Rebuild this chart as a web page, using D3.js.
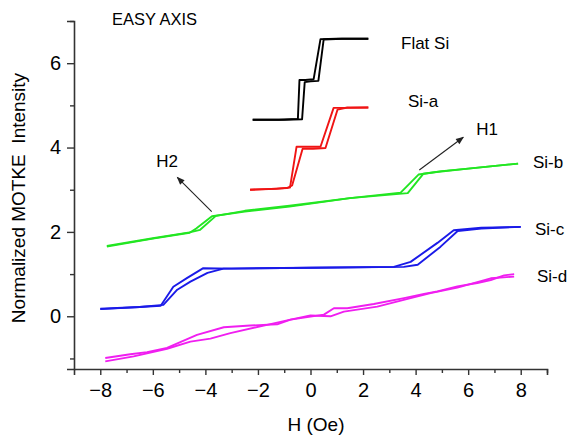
<!DOCTYPE html>
<html>
<head>
<meta charset="utf-8">
<script src="https://cdn.jsdelivr.net/npm/d3@7"></script>
<style>
  body { margin: 0; background: #fff; }
  svg { display: block; font-family: "Liberation Sans", Arial, sans-serif; }
</style>
</head>
<body>
<div id="chart"></div>
<script>
// hysteresis loops, [H (Oe), intensity], two sweeps per sample
const flatDown = [[2.2,6.58],[1.0,6.58],[0.38,6.57],[0.12,5.62],[-0.2,5.6],[-0.42,5.6],[-0.48,4.68],[-1.2,4.66],[-2.2,4.66]];
const flatUp = [[-2.2,4.66],[-1.0,4.66],[-0.32,4.67],[-0.22,5.55],[0.0,5.57],[0.3,5.58],[0.5,6.56],[1.2,6.58],[2.2,6.58]];

const siaDown = [[2.2,4.95],[1.5,4.94],[0.88,4.94],[0.38,4.02],[-0.1,4.02],[-0.53,4.02],[-0.78,3.05],[-1.3,3.02],[-2.3,3.0]];
const siaUp = [[-2.3,3.0],[-1.5,3.02],[-0.9,3.04],[-0.7,3.1],[-0.3,3.97],[0.1,3.97],[0.57,3.99],[1.03,4.9],[1.4,4.95],[2.2,4.95]];

const sibDown = [[7.9,3.62],[6.0,3.5],[4.8,3.42],[4.11,3.36],[3.43,2.93],[1.5,2.8],[-0.8,2.6],[-2.5,2.48],[-3.75,2.37],[-4.35,2.08],[-4.6,1.98],[-6,1.84],[-7.75,1.65]];
const sibUp = [[-7.75,1.67],[-6,1.85],[-4.6,1.99],[-4.2,2.05],[-3.6,2.38],[-2.5,2.5],[-0.8,2.62],[1.5,2.8],[3.7,2.92],[4.3,3.38],[5,3.44],[6,3.5],[7.9,3.62]];

const sicDown = [[8,2.12],[6.5,2.1],[5.45,2.04],[4.83,1.74],[3.81,1.29],[3.17,1.17],[0,1.15],[-3,1.13],[-4.08,1.14],[-4.69,0.91],[-5.22,0.7],[-5.7,0.25],[-6.5,0.22],[-8,0.17]];
const sicUp = [[-8,0.18],[-6.5,0.22],[-5.6,0.27],[-5.07,0.63],[-4.57,0.82],[-3.92,1.03],[-3.31,1.13],[0,1.15],[3.55,1.17],[4.08,1.22],[4.95,1.65],[5.6,2.02],[6.5,2.08],[8,2.12]];

const sidUpper = [[-7.81,-0.99],[-6.86,-0.9],[-6.22,-0.85],[-5.46,-0.75],[-4.32,-0.44],[-3.3,-0.26],[-2.29,-0.22],[-1.27,-0.19],[-0.76,-0.08],[0.51,0.04],[0.89,0.19],[1.4,0.19],[2.41,0.29],[3.56,0.43],[4.32,0.53],[4.83,0.59],[5.59,0.71],[6.35,0.79],[6.86,0.86],[7.37,0.97],[7.75,1.0]];
const sidLower = [[-7.81,-1.07],[-6.73,-0.95],[-5.46,-0.77],[-4.57,-0.6],[-3.81,-0.53],[-3.05,-0.4],[-1.78,-0.22],[-0.76,-0.08],[0.0,0.02],[0.76,0.0],[1.27,0.11],[2.54,0.23],[3.81,0.43],[4.57,0.55],[5.59,0.68],[6.86,0.9],[7.75,0.94]];

const series = [
  { name: "Flat Si", color: "#000000", branches: [flatDown, flatUp] },
  { name: "Si-a", color: "#f01414", branches: [siaDown, siaUp] },
  { name: "Si-b", color: "#22e622", branches: [sibDown, sibUp] },
  { name: "Si-c", color: "#1a1ae8", branches: [sicDown, sicUp] },
  { name: "Si-d", color: "#f01ef0", branches: [sidUpper, sidLower] }
];

const seriesLabels = [
  { text: "Flat Si", x: 401, y: 49 },
  { text: "Si-a", x: 408, y: 107 },
  { text: "Si-b", x: 533, y: 168 },
  { text: "Si-c", x: 535, y: 235 },
  { text: "Si-d", x: 537, y: 282 }
];

const xTicks = [-8, -6, -4, -2, 0, 2, 4, 6, 8];
const xMinor = [-7, -5, -3, -1, 1, 3, 5, 7, 9];
const yTicks = [0, 2, 4, 6];
const yMinor = [-1, 1, 3, 5, 7];

const W = 570, H = 437;
const svg = d3.select("#chart").append("svg")
  .attr("width", W).attr("height", H);

const x = d3.scaleLinear().domain([-9, 9]).range([74, 547]);
const y = d3.scaleLinear().domain([-1.25, 7]).range([369, 21]);

svg.append("defs").append("marker")
  .attr("id", "arrow")
  .attr("viewBox", "0 0 10 10")
  .attr("refX", 9).attr("refY", 5)
  .attr("markerWidth", 9).attr("markerHeight", 8)
  .attr("markerUnits", "userSpaceOnUse")
  .attr("orient", "auto")
  .append("path")
  .attr("d", "M0,1 L10,5 L0,9 Z")
  .attr("fill", "#222");

// axes
const axisColor = "#333";
const gx = svg.append("g").attr("transform", `translate(0,${y.range()[0]})`)
  .call(d3.axisBottom(x).tickValues(xTicks).tickSize(6).tickPadding(8).tickFormat(d3.format("d")));
const gxm = svg.append("g").attr("transform", `translate(0,${y.range()[0]})`)
  .call(d3.axisBottom(x).tickValues(xMinor).tickSize(4).tickFormat(""));
const gy = svg.append("g").attr("transform", `translate(${x.range()[0]},0)`)
  .call(d3.axisLeft(y).tickValues(yTicks).tickSize(7).tickPadding(6).tickFormat(d3.format("d")));
const gym = svg.append("g").attr("transform", `translate(${x.range()[0]},0)`)
  .call(d3.axisLeft(y).tickValues(yMinor).tickSize(4).tickFormat(""));

[gx, gxm, gy, gym].forEach(g => {
  g.select(".domain").attr("stroke", axisColor).attr("stroke-width", 1.6);
  g.selectAll(".tick line").attr("stroke", axisColor).attr("stroke-width", 1.4);
  g.selectAll(".tick text")
    .attr("fill", "#000")
    .style("font-family", "Liberation Sans, Arial, sans-serif")
    .style("font-size", "20px");
});
gxm.select(".domain").remove();
gym.select(".domain").remove();

// axis titles
svg.append("text")
  .attr("x", 316).attr("y", 431)
  .attr("text-anchor", "middle")
  .style("font-size", "19px")
  .attr("fill", "#000")
  .text("H (Oe)");

svg.append("text")
  .attr("transform", "translate(25,198) rotate(-90)")
  .attr("text-anchor", "middle")
  .style("font-size", "19px")
  .attr("fill", "#000")
  .attr("xml:space", "preserve")
  .style("white-space", "pre")
  .text("Normalized MOTKE  Intensity");

svg.append("text")
  .attr("x", 112).attr("y", 25)
  .style("font-size", "16.5px")
  .attr("fill", "#000")
  .text("EASY AXIS");

// curves
const line = d3.line()
  .x(d => x(d[0]))
  .y(d => y(d[1]))
  .curve(d3.curveLinear);

series.forEach(s => {
  s.branches.forEach(b => {
    svg.append("path")
      .datum(b)
      .attr("fill", "none")
      .attr("stroke", s.color)
      .attr("stroke-width", 1.9)
      .attr("stroke-linejoin", "round")
      .attr("d", line);
  });
});

// series labels
svg.selectAll(".slabel")
  .data(seriesLabels)
  .enter().append("text")
  .attr("class", "slabel")
  .attr("x", d => d.x).attr("y", d => d.y)
  .style("font-size", "17px")
  .attr("fill", "#000")
  .text(d => d.text);

// H1 / H2 arrows
svg.append("line")
  .attr("x1", 211.7).attr("y1", 211.7)
  .attr("x2", 177.3).attr("y2", 177.3)
  .attr("stroke", "#222").attr("stroke-width", 1.1)
  .attr("marker-end", "url(#arrow)");
svg.append("text")
  .attr("x", 167).attr("y", 167)
  .attr("text-anchor", "middle")
  .style("font-size", "17px")
  .attr("fill", "#000")
  .text("H2");

svg.append("line")
  .attr("x1", 419.3).attr("y1", 170)
  .attr("x2", 463.3).attr("y2", 137.3)
  .attr("stroke", "#222").attr("stroke-width", 1.1)
  .attr("marker-end", "url(#arrow)");
svg.append("text")
  .attr("x", 487).attr("y", 135)
  .attr("text-anchor", "middle")
  .style("font-size", "17px")
  .attr("fill", "#000")
  .text("H1");
</script>
</body>
</html>
